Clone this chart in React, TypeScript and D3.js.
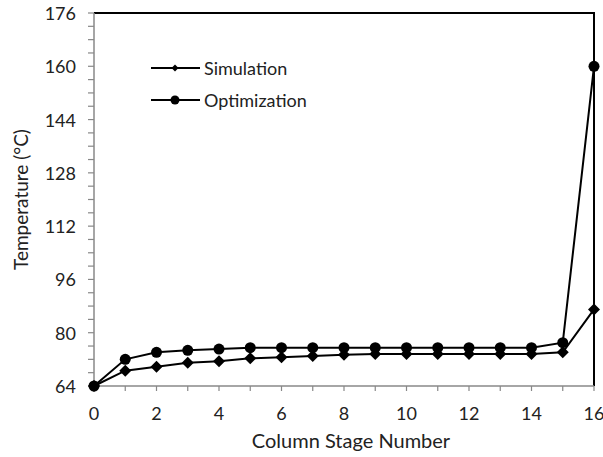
import React from "react";
import * as d3 from "d3";

const W = 603;
const H = 457;
const MARGIN = { left: 94, right: 9, top: 13, bottom: 71 };

const stages = [0, 1, 2, 3, 4, 5, 6, 7, 8, 9, 10, 11, 12, 13, 14, 15, 16];
const simulation = [64, 68.6, 69.8, 71, 71.4, 72.3, 72.6, 73, 73.4, 73.6, 73.6, 73.6, 73.6, 73.6, 73.6, 74.1, 87];
const optimization = [64, 72, 74.1, 74.7, 75.1, 75.5, 75.5, 75.5, 75.5, 75.5, 75.5, 75.5, 75.5, 75.5, 75.5, 77, 160];
const yTicks = [64, 80, 96, 112, 128, 144, 160, 176];
const xTicks = [0, 2, 4, 6, 8, 10, 12, 14, 16];

const FONT = "Lato, 'Open Sans', sans-serif";

const diamond = (cx: number, cy: number, r: number) =>
  `M${cx},${cy - r}L${cx + r},${cy}L${cx},${cy + r}L${cx - r},${cy}Z`;

export default function App() {
  const x = d3.scaleLinear().domain([0, 16]).range([MARGIN.left, W - MARGIN.right]);
  const y = d3.scaleLinear().domain([64, 176]).range([H - MARGIN.bottom, MARGIN.top]);
  const line = d3
    .line<number>()
    .x((_, i) => x(stages[i]))
    .y((d) => y(d));

  const minorY = d3.range(64, 177, 4);
  const x0 = x(0);
  const x1 = x(16);
  const y0 = y(64);
  const y1 = y(176);

  return (
    <svg
      width={W}
      height={H}
      style={{ position: "absolute", left: 0, top: 0, display: "block", background: "#fff" }}
      fontFamily={FONT}
    >
      {/* plot frame: top and right black */}
      <path d={`M${x0},${y1}H${x1}V${y0}`} fill="none" stroke="#000" strokeWidth={2} />

      {/* y axis */}
      <line x1={x0} x2={x0} y1={y1} y2={y0} stroke="#888" strokeWidth={1.5} />
      {minorY.map((v) => (
        <line key={"ym" + v} x1={x0 - 6} x2={x0} y1={y(v)} y2={y(v)} stroke="#888" strokeWidth={1.2} />
      ))}
      {yTicks.map((v) => (
        <text key={"yt" + v} x={x0 - 18} y={y(v)} textAnchor="end" dominantBaseline="central" fontSize={18} fill="#222">
          {v}
        </text>
      ))}

      {/* x axis */}
      <line x1={x0} x2={x1} y1={y0} y2={y0} stroke="#888" strokeWidth={1.5} />
      {stages.map((v) => (
        <line key={"xm" + v} x1={x(v)} x2={x(v)} y1={y0} y2={y0 + 5} stroke="#888" strokeWidth={1.2} />
      ))}
      {xTicks.map((v) => (
        <text key={"xt" + v} x={x(v)} y={y0 + 27} textAnchor="middle" dominantBaseline="central" fontSize={18} fill="#222">
          {v}
        </text>
      ))}

      {/* series */}
      <path d={line(simulation) || ""} fill="none" stroke="#000" strokeWidth={2} />
      <path d={line(optimization) || ""} fill="none" stroke="#000" strokeWidth={2} />
      {simulation.map((v, i) => (
        <path key={"sd" + i} d={diamond(x(stages[i]), y(v), 6)} fill="#000" />
      ))}
      {optimization.map((v, i) => (
        <circle key={"oc" + i} cx={x(stages[i])} cy={y(v)} r={5.5} fill="#000" />
      ))}

      {/* legend */}
      <line x1={151} x2={200} y1={68} y2={68} stroke="#000" strokeWidth={2} />
      <path d={diamond(175, 68, 3.5)} fill="#000" />
      <text x={204} y={68} dominantBaseline="central" fontSize={18} fill="#222">Simulation</text>
      <line x1={151} x2={200} y1={100} y2={100} stroke="#000" strokeWidth={2} />
      <circle cx={175} cy={100} r={4.5} fill="#000" />
      <text x={204} y={100} dominantBaseline="central" fontSize={18} fill="#222">Optimization</text>

      {/* axis titles */}
      <text
        transform={`translate(20, ${(y0 + y1) / 2}) rotate(-90)`}
        textAnchor="middle"
        dominantBaseline="central"
        fontSize={19}
        fill="#222"
      >
        Temperature (°C)
      </text>
      <text x={351} y={440} textAnchor="middle" dominantBaseline="central" fontSize={20} fill="#222">
        Column Stage Number
      </text>
    </svg>
  );
}
